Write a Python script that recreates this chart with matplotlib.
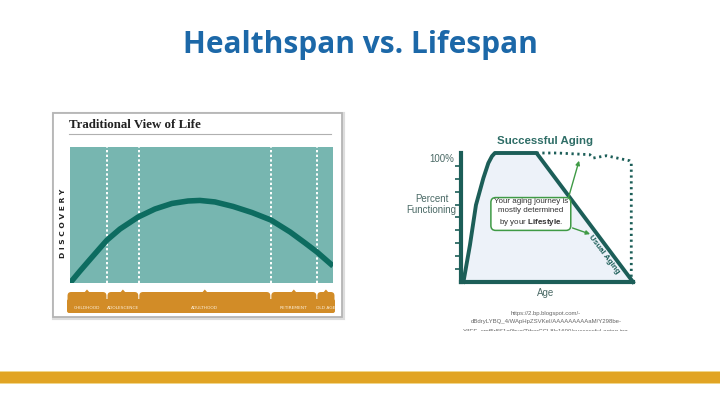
import matplotlib.pyplot as plt
from matplotlib.patches import Rectangle, FancyBboxPatch, Polygon

# ---- data ------------------------------------------------------------------
# left chart: "Traditional View of Life" (x = life course 0..100, y = discovery)
life_x = [0, 3.8, 7.6, 11.4, 14.1, 19.0, 25.9, 32.3, 38.8, 44.9, 49.4,
          55.1, 62.0, 69.2, 76.4, 83.7, 89.4, 93.9, 100]
life_y = [0, 8.8, 17.3, 25.7, 31.6, 39.7, 48.5, 54.4, 58.5, 60.3, 60.7,
          59.6, 56.3, 51.8, 46.3, 37.5, 29.4, 22.8, 12.5]
stage_edges = [-1.1, 14.1, 26.2, 76.4, 93.9, 100.8]
stage_names = ['CHILDHOOD', 'ADOLESCENCE', 'ADULTHOOD', 'RETIREMENT', 'OLD AGE']

# right chart: percent functioning vs age
usual_x = [1.4, 5.2, 8.7, 13.0, 15.9, 18.0, 19.7, 43.9, 100]
usual_y = [0, 28.6, 59.7, 80.5, 92.2, 97.5, 100, 100, 0]
success_x = [43.9, 56, 74.9, 76.8, 84.5, 98.1, 99, 99]
success_y = [100, 100, 98.7, 96.1, 97.9, 94, 93, 0]
pct_ticks = [10, 20, 30, 40, 50, 60, 70, 80, 90]

W, H = 720, 404

plt.rcParams['mathtext.fontset'] = 'custom'
plt.rcParams['mathtext.bf'] = 'Liberation Sans:bold'
plt.rcParams['mathtext.rm'] = 'Liberation Sans'


def box(x0, y0, x1, y1):
    # pixel box (top-left origin) -> figure fraction rect
    return [x0 / W, 1 - y1 / H, (x1 - x0) / W, (y1 - y0) / H]


fig = plt.figure(figsize=(7.2, 4.04), dpi=100)
bg = fig.add_axes([0, 0, 1, 1])
bg.set_xlim(0, W)
bg.set_ylim(H, 0)
bg.axis('off')

bg.text(360, 53.5, 'Healthspan vs. Lifespan', ha='center', va='baseline',
        fontsize=21.5, fontweight='bold', color='#1c68a8', family='Open Sans')

# gold band at the bottom
bg.add_patch(Rectangle((0, 370.5), W, 13, color='#f0d68c', lw=0))
bg.add_patch(Rectangle((0, 371.5), W, 11, color='#e1a424', lw=0))

# ---- left picture frame ----------------------------------------------------
bg.add_patch(Rectangle((54, 114), 289, 204, fill=False, ec='#dddddd', lw=3))
bg.add_patch(Rectangle((53, 113), 289, 204, facecolor='white', ec='#b5b5b5', lw=1.3))
bg.text(69, 128, 'Traditional View of Life', ha='left', va='baseline',
        fontsize=9.3, fontweight='bold', color='#222222', family='Liberation Serif')
bg.plot([69, 331], [134, 134], color='#b0b0b0', lw=0.8)
bg.text(63, 223, 'D I S C O V E R Y', rotation=90, ha='center', va='center',
        fontsize=5.4, fontweight='bold', color='#222222')

ax1 = fig.add_axes(box(70, 147, 333, 283))
ax1.set_facecolor('#77b6b0')
ax1.set_xlim(0, 100)
ax1.set_ylim(0, 100)
for e in stage_edges[1:-1]:
    ax1.axvline(e, color='white', lw=1.4, ls=(0, (1.2, 1.2)))
ax1.plot(life_x, life_y, color='#0d6c60', lw=4, solid_capstyle='butt',
         solid_joinstyle='round')
ax1.set_xticks([])
ax1.set_yticks([])
for s in ax1.spines.values():
    s.set_visible(False)

# stage tabs
ax2 = fig.add_axes(box(67, 289, 335, 313))
ax2.set_xlim(stage_edges[0], stage_edges[-1])
ax2.set_ylim(0, 24)
ax2.axis('off')
sx = 268 / (stage_edges[-1] - stage_edges[0])
orange = '#d28c27'
ax2.add_patch(FancyBboxPatch((stage_edges[0], 0), stage_edges[-1] - stage_edges[0], 14,
                             boxstyle='round,pad=0,rounding_size=0.8',
                             mutation_aspect=sx, color=orange, lw=0))
for i, name in enumerate(stage_names):
    a, b = stage_edges[i], stage_edges[i + 1]
    g = 0.2
    ax2.add_patch(FancyBboxPatch((a + g, 0), b - a - 2 * g, 21,
                                 boxstyle='round,pad=0,rounding_size=1.4',
                                 mutation_aspect=sx, color=orange, lw=0))
    c = (a + b) / 2
    ax2.add_patch(Polygon([[c - 1.0, 20.5], [c, 23.5], [c + 1.0, 20.5]],
                          closed=True, color=orange, lw=0))
    ax2.text(c, 5, name, ha='center', va='center', fontsize=3.2,
             color='#fbeed8')

# ---- right chart -----------------------------------------------------------
sans = 'Liberation Sans'
ax3 = fig.add_axes(box(461, 153, 633, 282))
ax3.set_xlim(0, 100)
ax3.set_ylim(0, 100)
teal = '#1c5e58'
ax3.fill(usual_x, usual_y, color='#edf2f9', lw=0)
ax3.plot(usual_x, usual_y, color=teal, lw=2.8, solid_joinstyle='round',
         clip_on=False)
ax3.plot(success_x, success_y, color=teal, lw=2, ls=(0, (0.8, 1.3)),
         clip_on=False)
for s in ['top', 'right']:
    ax3.spines[s].set_visible(False)
for s in ['left', 'bottom']:
    ax3.spines[s].set_color(teal)
    ax3.spines[s].set_linewidth(3)
ax3.set_xticks([])
ax3.set_yticks(pct_ticks)
ax3.set_yticklabels([])
ax3.tick_params(axis='y', direction='out', length=4, width=1.2, color=teal)
ax3.patch.set_alpha(0)

ax3.text(49, 109, 'Successful Aging', ha='center', va='center',
         fontsize=8.2, fontweight='bold', color='#2e6d66', family=sans)
ax3.text(-4, 95, '100%', ha='right', va='center', fontsize=7, color='#4b6a66',
         family=sans)
ax3.text(-2.5, 60, 'Percent\nFunctioning', ha='right', va='center',
         multialignment='center', fontsize=7, color='#4b6a66', family=sans,
         linespacing=1.1)
ax3.text(49.3, -8.5, 'Age', ha='center', va='center', fontsize=7,
         color='#4b6a66', family=sans)
ax3.text(83, 21.5, 'Usual Aging', rotation=-53, ha='center', va='center',
         fontsize=5.8, fontweight='bold', color=teal, family=sans)

green = '#3f9a45'
ax3.annotate('', xy=(69.1, 96.1), xytext=(62.1, 63.6),
             arrowprops=dict(arrowstyle='-|>', color=green, lw=1,
                             mutation_scale=6))
ax3.annotate('', xy=(76.6, 36.4), xytext=(63.3, 42.6),
             arrowprops=dict(arrowstyle='-|>', color=green, lw=1,
                             mutation_scale=6))
ax3.text(40.6, 53.5, 'Your aging journey is\nmostly determined\nby your $\\mathbf{Lifestyle}$.',
         ha='center', va='center', fontsize=5.8, color='#333333', linespacing=1.35,
         family=sans,
         bbox=dict(boxstyle='round,pad=0.35,rounding_size=0.6', fc='white',
                   ec=green, lw=1.1))

# source url under the right picture
url_lines = ['https://2.bp.blogspot.com/-',
             'dBdryLYBQ_4/WApHpZSVKeI/AAAAAAAAAaM/Y298be-',
             'Y4EE_cmf5r8S1q0bvg/TtbarCCL8lc1600/successful-aging.jpg']
for i, t in enumerate(url_lines):
    bg.text(546, 313 + 9 * i, t, ha='center', va='center', fontsize=4.3,
            color='#666666', family=sans)
bg.add_patch(Rectangle((440, 330.5), 220, 10, color='white', lw=0, zorder=5))

fig.savefig('out.png', dpi=100)
